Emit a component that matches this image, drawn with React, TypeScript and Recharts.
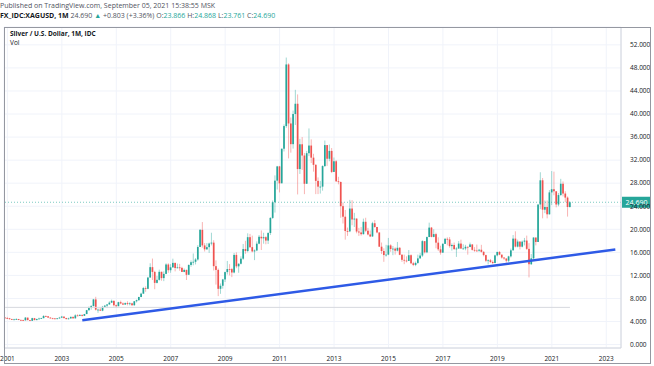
import {
  Bar,
  CartesianGrid,
  ComposedChart,
  Line,
  ReferenceLine,
  XAxis,
  YAxis,
} from "recharts";

// monthly candles, first one is Dec 2000; open = previous close
const firstOpen = 4.69;
const closes = [
  4.58,
  4.55, 4.40, 4.32, 4.37, 4.43, 4.27, 4.23, 4.20, 4.67, 4.24, 4.12, 4.58, // 2001
  4.24, 4.42, 4.52, 4.58, 4.95, 4.90, 4.68, 4.55, 4.54, 4.43, 4.55, 4.67, // 2002
  4.85, 4.59, 4.42, 4.53, 4.80, 4.55, 5.06, 4.98, 5.14, 4.98, 5.29, 5.96, // 2003
  6.35, 6.68, 7.83, 6.05, 6.06, 5.88, 6.54, 6.75, 6.96, 7.27, 7.58, 6.82, // 2004
  6.65, 7.35, 7.13, 6.93, 7.19, 7.04, 7.15, 6.83, 7.51, 7.70, 8.25, 8.83, // 2005
  9.81, 9.67, 11.62, 13.43, 12.60, 10.70, 11.23, 12.62, 11.53, 12.26, 13.89, 12.90, // 2006
  13.40, 14.17, 13.28, 13.39, 13.30, 12.60, 12.95, 12.10, 13.81, 14.29, 14.36, 14.76, // 2007
  16.93, 19.90, 17.20, 16.52, 16.90, 17.53, 17.68, 13.60, 12.95, 9.67, 10.20, 11.30, // 2008
  12.57, 13.10, 13.08, 12.50, 15.55, 13.57, 14.02, 14.90, 16.57, 16.23, 18.63, 16.90, // 2009
  16.16, 16.33, 17.50, 18.70, 18.43, 18.63, 18.04, 19.35, 21.97, 24.69, 28.44, 30.91, // 2010
  27.97, 33.98, 37.91, 48.60, 38.36, 34.77, 40.00, 41.78, 30.45, 34.75, 32.80, 27.90, // 2011
  33.20, 34.53, 32.43, 31.18, 28.40, 27.40, 27.40, 30.97, 34.61, 32.24, 33.60, 29.95, // 2012
  31.80, 28.33, 28.20, 24.01, 22.18, 19.70, 19.64, 23.60, 21.70, 21.85, 19.61, 19.45, // 2013
  19.15, 21.30, 19.75, 19.10, 18.75, 21.05, 20.40, 19.45, 16.98, 16.23, 15.53, 15.60, // 2014
  17.20, 16.58, 16.64, 16.29, 16.79, 15.57, 14.70, 14.57, 14.50, 15.50, 14.10, 13.82, // 2015
  14.16, 14.95, 15.44, 17.94, 16.00, 18.65, 20.29, 18.68, 19.16, 17.68, 16.52, 15.95, // 2016
  17.47, 18.34, 18.24, 17.08, 17.28, 16.57, 16.66, 17.52, 16.66, 16.67, 16.96, 16.92, // 2017
  17.37, 16.43, 16.31, 16.28, 16.45, 16.08, 15.52, 14.54, 14.62, 14.33, 14.15, 15.47, // 2018
  16.07, 15.60, 15.09, 14.93, 14.55, 15.30, 16.35, 18.38, 16.99, 17.87, 16.98, 17.85, // 2019
  18.04, 16.60, 13.94, 14.96, 18.57, 17.80, 24.30, 28.50, 23.40, 23.87, 22.60, 26.40, // 2020
  26.95, 26.60, 24.30, 25.94, 27.90, 26.20, 25.50, 23.87, 24.69, // 2021
];
const highs = [
  4.70,
  4.80, 4.62, 4.48, 4.48, 4.57, 4.45, 4.35, 4.32, 4.78, 4.67, 4.25, 4.65,
  4.62, 4.50, 4.66, 4.64, 5.10, 5.05, 4.95, 4.72, 4.64, 4.57, 4.60, 4.80,
  4.97, 4.85, 4.65, 4.66, 4.85, 4.85, 5.25, 5.25, 5.26, 5.22, 5.32, 6.01,
  6.60, 6.85, 7.92, 8.29, 6.25, 6.35, 6.70, 6.87, 7.00, 7.50, 7.80, 7.65,
  6.95, 7.42, 7.62, 7.30, 7.30, 7.50, 7.34, 7.25, 7.55, 7.80, 8.30, 9.00,
  10.00, 10.10, 11.75, 14.10, 14.92, 12.80, 11.90, 13.00, 12.65, 12.70, 14.10, 14.10,
  13.95, 14.90, 14.20, 14.05, 14.00, 13.50, 13.20, 13.00, 13.90, 14.60, 15.80, 15.00,
  17.25, 20.05, 21.25, 17.60, 17.60, 17.68, 19.40, 18.10, 14.60, 13.20, 10.60, 11.40,
  12.65, 14.50, 13.95, 13.30, 15.90, 16.00, 14.10, 15.30, 17.45, 18.00, 19.30, 19.20,
  18.90, 16.50, 17.90, 19.00, 19.80, 19.40, 18.80, 19.50, 22.10, 25.00, 29.35, 31.00,
  31.00, 34.00, 38.20, 49.80, 48.80, 39.40, 40.60, 44.20, 43.40, 35.70, 36.00, 33.25,
  33.60, 37.50, 35.60, 33.10, 31.30, 29.00, 28.40, 31.10, 35.40, 34.60, 34.70, 34.10,
  32.45, 32.00, 29.10, 28.30, 24.65, 23.35, 20.30, 25.10, 25.05, 22.85, 21.90, 20.25,
  20.40, 21.85, 22.00, 20.25, 19.80, 21.30, 21.60, 20.40, 19.45, 17.70, 16.70, 17.30,
  18.50, 17.40, 17.10, 16.85, 17.80, 16.90, 15.70, 15.60, 15.30, 16.40, 15.65, 14.35,
  14.40, 15.60, 15.90, 18.10, 17.90, 18.75, 21.15, 20.40, 20.00, 19.40, 18.60, 17.15,
  17.60, 18.50, 18.60, 18.65, 17.55, 17.70, 16.90, 17.95, 18.20, 17.40, 17.30, 17.00,
  17.70, 17.40, 16.90, 17.35, 16.60, 17.30, 16.20, 15.60, 14.80, 14.85, 14.60, 15.60,
  16.10, 16.20, 15.60, 15.20, 14.95, 15.40, 16.65, 19.00, 19.65, 18.20, 17.90, 18.05,
  18.50, 18.90, 17.60, 15.70, 18.60, 18.55, 24.30, 29.90, 28.90, 25.00, 25.00, 26.80,
  30.10, 30.00, 26.50, 26.30, 28.75, 28.30, 26.60, 25.70, 24.87,
];
const lows = [
  4.55,
  4.50, 4.35, 4.25, 4.28, 4.30, 4.22, 4.20, 4.08, 4.15, 4.20, 4.05, 4.10,
  4.22, 4.22, 4.38, 4.47, 4.55, 4.80, 4.60, 4.48, 4.45, 4.38, 4.40, 4.50,
  4.60, 4.53, 4.35, 4.37, 4.50, 4.48, 4.50, 4.90, 4.94, 4.87, 4.95, 5.27,
  5.88, 6.05, 6.60, 5.90, 5.50, 5.82, 5.78, 6.50, 6.33, 6.90, 7.20, 6.60,
  6.40, 6.65, 7.00, 6.85, 6.95, 6.80, 6.80, 6.70, 6.70, 7.30, 7.60, 8.20,
  8.80, 9.15, 9.60, 11.65, 11.20, 9.60, 10.60, 11.10, 11.08, 11.00, 12.20, 12.45,
  12.45, 13.30, 12.70, 13.20, 12.80, 12.60, 12.55, 11.20, 12.20, 13.50, 13.75, 13.90,
  14.55, 16.93, 16.80, 16.15, 16.45, 15.90, 17.20, 12.85, 10.40, 8.40, 8.80, 9.70,
  10.85, 12.15, 12.00, 11.70, 12.35, 13.25, 12.45, 13.90, 14.70, 15.75, 16.00, 16.75,
  16.00, 14.65, 16.20, 17.40, 16.40, 17.50, 17.40, 17.45, 19.00, 21.80, 22.90, 26.90,
  26.40, 28.20, 33.50, 37.60, 32.30, 33.30, 34.00, 38.10, 26.05, 29.60, 30.30, 26.10,
  27.90, 32.70, 31.50, 30.00, 26.10, 26.10, 26.20, 26.70, 30.80, 31.00, 31.80, 29.75,
  30.00, 28.20, 27.80, 22.00, 21.00, 18.20, 18.85, 19.50, 20.70, 20.40, 19.30, 18.85,
  18.90, 19.10, 19.50, 18.95, 18.65, 18.70, 20.25, 19.30, 16.95, 15.70, 14.35, 15.25,
  15.50, 16.10, 15.50, 15.60, 16.15, 15.50, 14.35, 13.95, 14.25, 14.50, 13.95, 13.60,
  13.60, 14.00, 14.90, 15.20, 15.80, 15.85, 19.10, 18.60, 18.60, 16.70, 16.25, 15.60,
  15.90, 17.45, 17.20, 16.80, 16.30, 16.40, 15.20, 16.60, 16.60, 16.50, 16.35, 15.60,
  16.90, 16.30, 16.10, 16.15, 16.10, 15.95, 15.30, 14.30, 13.90, 14.15, 13.95, 14.10,
  15.30, 15.50, 14.90, 14.70, 14.20, 14.30, 15.10, 16.30, 16.85, 16.85, 16.50, 16.85,
  17.20, 16.40, 11.65, 13.80, 14.80, 17.20, 17.80, 23.50, 21.90, 22.80, 21.90, 22.55,
  24.20, 25.90, 23.80, 24.00, 25.80, 25.70, 24.70, 22.20, 23.76,
];

const yearTicks = ["2001", "2003", "2005", "2007", "2009", "2011", "2013", "2015", "2017", "2019", "2021", "2023"];
const priceTicks = [0, 4, 8, 12, 16, 20, 24, 28, 32, 36, 40, 44, 48, 52];
const lastPrice = 24.69;
const trendStart = { m: "2003-10", v: 4.2 };
const trendEnd = { m: "2023-05", v: 16.5 };
const volLevel = 6.45;

const GREEN = "#26a69a";
const RED = "#ef5350";

const months: string[] = [];
for (let y = 2000, mo = 12; ; ) {
  const key = `${y}-${String(mo).padStart(2, "0")}`;
  months.push(key);
  if (key === "2023-07") break;
  mo++;
  if (mo > 12) {
    mo = 1;
    y++;
  }
}

const data = months.map((m, i) => {
  const row: any = { m };
  if (closes[i] !== undefined) {
    row.o = i === 0 ? firstOpen : closes[i - 1];
    row.c = closes[i];
    row.h = highs[i];
    row.l = lows[i];
    row.range = [lows[i], highs[i]];
  }
  if (m === trendStart.m) row.t = trendStart.v;
  if (m === trendEnd.m) row.t = trendEnd.v;
  return row;
});

const lastDataMonth = months[closes.length - 1];

function Candle(props: any) {
  const { x, y, width, height, payload } = props;
  if (!payload || payload.c === undefined) return null;
  const { o, c, h, l } = payload;
  const toY = (v: number) => y + ((h - v) / (h - l)) * height;
  const color = c >= o ? GREEN : RED;
  const cx = x + width / 2;
  const top = toY(Math.max(o, c));
  const bot = toY(Math.min(o, c));
  const bw = 1.7;
  return (
    <g>
      <line x1={cx} x2={cx} y1={y} y2={y + height} stroke={color} strokeOpacity={0.55} strokeWidth={0.8} />
      <rect x={cx - bw / 2} y={top} width={bw} height={Math.max(bot - top, 0.8)} fill={color} />
    </g>
  );
}

function PriceBadge(props: any) {
  const vb = props.viewBox || {};
  const x = vb.x + vb.width + 1;
  const y = vb.y;
  return (
    <g>
      <rect x={x} y={y - 5.5} width={29} height={11} fill={GREEN} />
      <text x={x + 14.5} y={y + 2.5} textAnchor="middle" fill="#fff" fontSize={7}>
        {lastPrice.toFixed(3)}
      </text>
    </g>
  );
}

const txt: any = { position: "absolute", whiteSpace: "nowrap", color: "#131722" };

export default function App() {
  return (
    <div
      style={{
        position: "absolute",
        left: 0,
        top: 0,
        width: 654,
        height: 366,
        background: "#fff",
        fontFamily: "'Open Sans', sans-serif",
        overflow: "hidden",
      }}
    >
      <div style={{ ...txt, left: 0, top: 1, fontSize: 7, color: "#50535e" }}>
        Published on TradingView.com, September 05, 2021 15:38:55 MSK
      </div>
      <div style={{ ...txt, left: 0, top: 11, fontSize: 7, color: "#50535e" }}>
        <b style={{ color: "#131722" }}>FX_IDC:XAGUSD, 1M</b> 24.690{" "}
        <span style={{ color: GREEN }}>▲</span> +0.803 (+3.36%){" "}
        O:<span style={{ color: GREEN }}>23.866</span> H:<span style={{ color: GREEN }}>24.868</span>{" "}
        L:<span style={{ color: GREEN }}>23.761</span> C:<span style={{ color: GREEN }}>24.690</span>
      </div>
      <ComposedChart
        width={654}
        height={366}
        data={data}
        margin={{ top: 27, right: 3, bottom: 2, left: 4 }}
        barCategoryGap={0}
      >
        <CartesianGrid stroke="#f0f3fa" strokeWidth={1} />
        <XAxis
          dataKey="m"
          type="category"
          ticks={yearTicks.map((y) => `${y}-01`)}
          tickFormatter={(v: string) => v.slice(0, 4)}
          interval={0}
          height={16}
          tickLine={false}
          axisLine={{ stroke: "#d1d4dc" }}
          tick={{ fontSize: 6.5, fill: "#131722" }}
          tickMargin={2}
        />
        <YAxis
          orientation="right"
          domain={[-0.6, 55.1]}
          ticks={priceTicks}
          width={30}
          tickFormatter={(v: number) => v.toFixed(3)}
          tickLine={false}
          axisLine={{ stroke: "#d1d4dc" }}
          tick={{ fontSize: 6.5, fill: "#131722" }}
          tickMargin={3}
          allowDataOverflow
        />
        <ReferenceLine
          segment={[
            { x: months[0], y: volLevel },
            { x: lastDataMonth, y: volLevel },
          ]}
          stroke="#d6d8de"
          strokeWidth={1}
        />
        <ReferenceLine
          y={lastPrice}
          stroke={GREEN}
          strokeOpacity={0.6}
          strokeDasharray="1 2"
          label={<PriceBadge />}
        />
        <Bar dataKey="range" shape={<Candle />} isAnimationActive={false} />
        <Line
          dataKey="t"
          connectNulls
          dot={false}
          stroke="#2e5ae6"
          strokeWidth={2.5}
          isAnimationActive={false}
        />
      </ComposedChart>
      <div
        style={{
          position: "absolute",
          left: 4,
          top: 27,
          width: 647,
          height: 337,
          border: "1px solid #9598a1",
          boxSizing: "border-box",
          pointerEvents: "none",
        }}
      />
      <div style={{ ...txt, left: 10, top: 29, fontSize: 6.5, fontWeight: 700 }}>
        Silver / U.S. Dollar, 1M, IDC
      </div>
      <div style={{ ...txt, left: 10, top: 38, fontSize: 6.5 }}>Vol</div>
    </div>
  );
}
